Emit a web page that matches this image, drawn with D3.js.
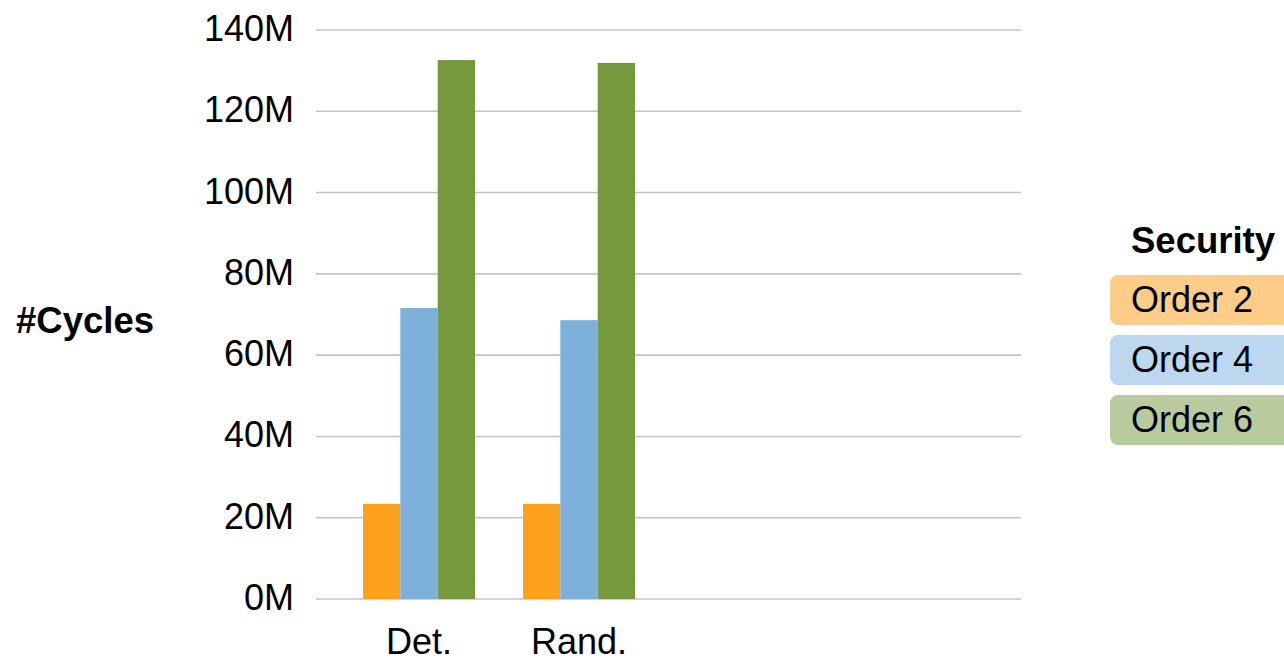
<!DOCTYPE html>
<html>
<head>
<meta charset="utf-8">
<script src="https://cdn.jsdelivr.net/npm/d3@7"></script>
<style>
  html, body { margin: 0; padding: 0; background: #fff; }
  svg { display: block; font-family: "Liberation Sans", Arial, sans-serif; }
</style>
</head>
<body>
<svg id="chart" width="1284" height="663"></svg>
<script>
const categories = ["Det.", "Rand."];
const seriesNames = ["Order 2", "Order 4", "Order 6"];
const order2 = [23.4, 23.4];
const order4 = [71.6, 68.6];
const order6 = [132.6, 131.9];
const yTicks = [0, 20, 40, 60, 80, 100, 120, 140];
const barColors = ["#FFA11A", "#7EB1DA", "#76993D"];
const legendColors = ["#FFCC8A", "#BDD7EE", "#B8CA9E"];

const values = [order2, order4, order6];
const svg = d3.select("#chart");

const y = d3.scaleLinear().domain([0, 140]).range([599, 30]);
const x = d3.scaleBand().domain(categories).range([339, 659]).paddingInner(0.3).paddingOuter(0.15);
const xs = d3.scaleBand().domain(seriesNames).range([0, x.bandwidth()]);

const gridLeft = 316, gridRight = 1021;

// gridlines
svg.append("g").selectAll("line").data(yTicks).join("line")
  .attr("x1", gridLeft).attr("x2", gridRight)
  .attr("y1", d => y(d)).attr("y2", d => y(d))
  .attr("stroke", "#c4c4c4").attr("stroke-width", 1.6);

// y tick labels
svg.append("g").selectAll("text").data(yTicks).join("text")
  .attr("x", 294).attr("y", d => y(d)).attr("dy", 11)
  .attr("text-anchor", "end").attr("font-size", 36).attr("fill", "#000")
  .text(d => d + "M");

// bars
const groups = svg.append("g").selectAll("g").data(categories).join("g")
  .attr("transform", c => `translate(${x(c)},0)`);
groups.selectAll("rect").data((c, ci) => seriesNames.map((s, si) => ({s, si, v: values[si][ci]})))
  .join("rect")
  .attr("x", d => xs(d.s)).attr("width", xs.bandwidth())
  .attr("y", d => y(d.v)).attr("height", d => y(0) - y(d.v))
  .attr("fill", d => barColors[d.si]);

// x labels
svg.append("g").selectAll("text").data(categories).join("text")
  .attr("x", c => x(c) + x.bandwidth() / 2).attr("y", 654)
  .attr("text-anchor", "middle").attr("font-size", 36).attr("fill", "#000")
  .text(c => c);

// y axis title
svg.append("text").attr("x", 16).attr("y", 333)
  .attr("font-size", 36.5).attr("font-weight", "bold").attr("fill", "#000")
  .text("#Cycles");

// legend
svg.append("text").attr("x", 1131).attr("y", 253)
  .attr("font-size", 36.5).attr("font-weight", "bold").attr("fill", "#000")
  .text("Security");
const lg = svg.append("g").selectAll("g").data(seriesNames).join("g")
  .attr("transform", (d, i) => `translate(1110,${275 + i * 60})`);
lg.append("rect").attr("width", 190).attr("height", 50).attr("rx", 8).attr("ry", 8)
  .attr("fill", (d, i) => legendColors[i]);
lg.append("text").attr("x", 21).attr("y", 37).attr("font-size", 36).attr("fill", "#000")
  .text(d => d);
</script>
</body>
</html>
